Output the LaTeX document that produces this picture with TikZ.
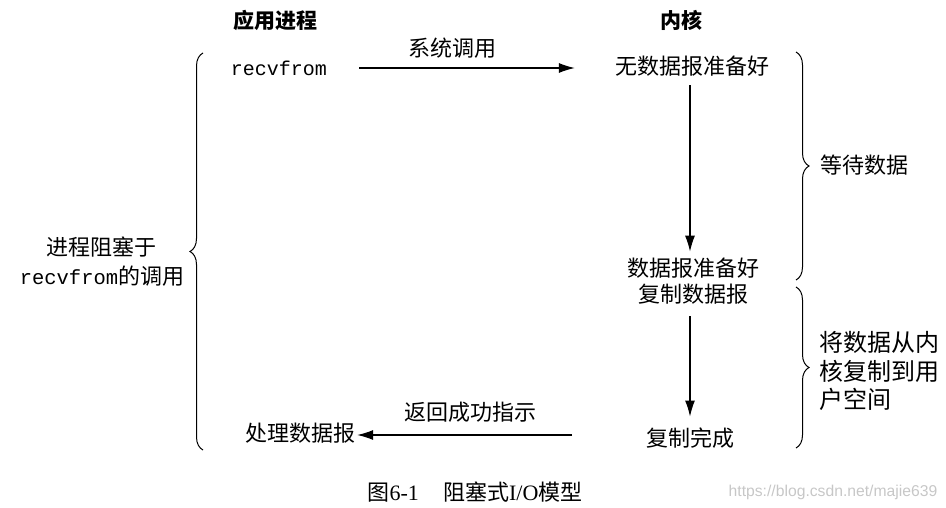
\documentclass[tikz,border=0pt]{standalone}
\usepackage{fontspec}
\setmainfont{Liberation Serif}
\setmonofont{Liberation Mono}
\newfontfamily\cjk{Noto Sans CJK SC}
\newfontfamily\wmfont{Liberation Sans}
\usetikzlibrary{arrows.meta,decorations.pathreplacing}
\begin{document}
\begin{tikzpicture}[x=1pt,y=-1pt,
  txt/.style={inner sep=0pt,font=\cjk\fontsize{22}{26}\selectfont},
  ttl/.style={inner sep=0pt,font=\cjk\bfseries\fontsize{21}{26}\selectfont},
  arr/.style={line width=1.1pt,-{Latex[length=16pt,width=10pt]}},
  brc/.style={line width=1pt,decorate,decoration={brace,amplitude=13pt}}]
\useasboundingbox (0,0) rectangle (946,508);
% titles
\node[ttl] (t1) at (275,20) {应用进程};
\node[ttl] (t2) at (681,20) {内核};
% application side
\node[inner sep=0pt,font=\ttfamily\fontsize{20}{24}\selectfont] (recv) at (279,68) {recvfrom};
\node[txt] (proc) at (300,433) {处理数据报};
\node[txt,align=center,font=\cjk\fontsize{22}{29}\selectfont] (block) at (102,262)
  {进程阻塞于\\{\ttfamily\fontsize{20.5}{24}\selectfont recvfrom}的调用};
% kernel side
\node[txt] (nodata) at (692,66) {无数据报准备好};
\node[txt,align=center,font=\cjk\fontsize{22}{26}\selectfont] (ready) at (693,281) {数据报准备好\\复制数据报};
\node[txt] (done) at (690,438) {复制完成};
% right labels
\node[txt,anchor=west] (wait) at (820,165) {等待数据};
\node[txt,anchor=west,align=left,font=\cjk\fontsize{24}{28.5}\selectfont] (copy) at (819,371)
  {将数据从内\\核复制到用\\户空间};
% arrows
\draw[arr,shorten <=32pt,shorten >=40pt] (recv.east) -- (recv.east -| nodata.west)
  node[pos=0.435,above=9pt,txt] (sys) {系统调用};
\draw[arr,shorten <=9pt,shorten >=6pt] (nodata.south -| done.north) -- (ready.north -| done.north);
\draw[arr,shorten <=12pt,shorten >=11pt] (ready.south -| done.north) -- (done.north);
\coordinate (retstart) at (572,435);
\draw[arr,shorten >=2pt] (retstart) -- (proc.east |- retstart)
  node[pos=0.47,above=12pt,txt] (ret) {返回成功指示};
% braces
\draw[brc] (203,450) -- (203,53);
\draw[brc] (796,52) -- (796,280);
\draw[brc] (796,287) -- (796,448);
% caption
\node[inner sep=0pt,font=\fontsize{22}{26}\selectfont] (cap) at (475,492)
  {{\cjk 图}6-1\hspace{1.1em}{\cjk 阻塞式}I/O{\cjk 模型}};
\node[inner sep=0pt,text=black!22,font=\wmfont\fontsize{15.7}{18}\selectfont] (wm) at (833,492)
  {https://blog.csdn.net/majie639};
\end{tikzpicture}
\end{document}
